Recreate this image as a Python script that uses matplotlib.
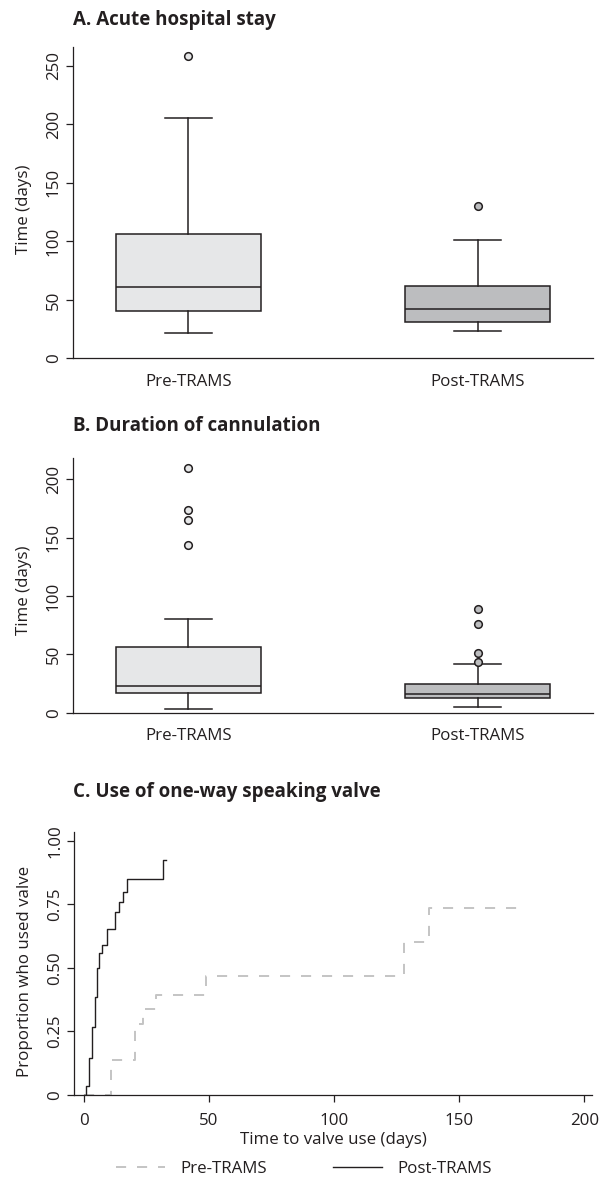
import matplotlib
matplotlib.use('Agg')
import matplotlib.pyplot as plt

plt.rcParams['font.family'] = ['Open Sans', 'DejaVu Sans']

# box plot summaries (days)
groups = ['Pre-TRAMS', 'Post-TRAMS']

stay_med = [61, 42]
stay_q1 = [40.5, 31]
stay_q3 = [106, 62]
stay_lo = [22, 23.3]
stay_hi = [205, 101]
stay_out = [[258.6], [130.2]]

cann_med = [22.6, 15.7]
cann_q1 = [16.6, 12.9]
cann_q3 = [56.6, 24.3]
cann_lo = [3.1, 4.9]
cann_hi = [80.6, 41.5]
cann_out = [[210, 173.5, 165.4, 143.7], [89.1, 76, 51.2, 43.5]]

# cumulative proportion using the valve (step curves)
pre_t = [0, 10.6, 20.2, 23.4, 28.7, 48.7, 127.9, 137.9, 173.4]
pre_p = [0, 0.137, 0.28, 0.336, 0.393, 0.469, 0.603, 0.737, 0.737]
post_t = [0, 0.8, 1.8, 3.0, 4.2, 5.3, 6.1, 7.2, 9.3, 12.5, 14.1, 15.7, 17.3, 31.7, 32.7]
post_p = [0, 0.034, 0.146, 0.265, 0.384, 0.498, 0.56, 0.59, 0.653, 0.72, 0.76, 0.80,
          0.85, 0.925, 0.925]

dark = '#231f20'
fills = ['#e6e7e8', '#bcbdbf']
fs = 12.2
tfs = 13.5


def style_axes(ax):
    ax.tick_params(axis='y', length=4.8, width=0.9, pad=3, labelsize=fs,
                   labelrotation=90, colors=dark)
    for lab in ax.get_yticklabels():
        lab.set_va('center')
    ax.spines['top'].set_visible(False)
    ax.spines['right'].set_visible(False)
    for sp in ['left', 'bottom']:
        ax.spines[sp].set_linewidth(0.9)
        ax.spines[sp].set_color(dark)


def box_panel(ax, med, q1, q3, lo, hi, out, ymax, yticks):
    for i in range(len(groups)):
        s = dict(med=med[i], q1=q1[i], q3=q3[i], whislo=lo[i],
                 whishi=hi[i], fliers=out[i], label=groups[i])
        ax.bxp([s], positions=[i + 1], widths=0.5, capwidths=0.165,
               patch_artist=True,
               boxprops=dict(facecolor=fills[i], edgecolor=dark, linewidth=1.1),
               medianprops=dict(color=dark, linewidth=1.1),
               whiskerprops=dict(color=dark, linewidth=1.1),
               capprops=dict(color=dark, linewidth=1.1),
               flierprops=dict(marker='o', markersize=5.5, markerfacecolor=fills[i],
                               markeredgecolor=dark, markeredgewidth=1.1))
    ax.set_xlim(0.6, 2.4)
    ax.set_ylim(0, ymax)
    ax.set_yticks(yticks)
    ax.set_xticks([1, 2])
    ax.set_xticklabels(groups)
    ax.tick_params(axis='x', length=0, pad=11, labelsize=fs, colors=dark)
    style_axes(ax)
    ax.set_ylabel('Time (days)', fontsize=fs, color=dark)
    ax.yaxis.set_label_coords(-0.078, 0.48)


fig = plt.figure(figsize=(6.03, 11.78), dpi=100)

ax1 = fig.add_axes([0.1206, 0.6958, 0.8633, 0.2643])
box_panel(ax1, stay_med, stay_q1, stay_q3, stay_lo, stay_hi, stay_out, 266,
          [0, 50, 100, 150, 200, 250])
fig.text(73 / 603, 1 - 20 / 1178, 'A. Acute hospital stay', fontsize=tfs,
         fontweight='bold', color=dark, ha='left', va='center')

ax2 = fig.add_axes([0.1206, 0.395, 0.8633, 0.216])
box_panel(ax2, cann_med, cann_q1, cann_q3, cann_lo, cann_hi, cann_out, 218,
          [0, 50, 100, 150, 200])
fig.text(73 / 603, 1 - 426 / 1178, 'B. Duration of cannulation', fontsize=tfs,
         fontweight='bold', color=dark, ha='left', va='center')

ax3 = fig.add_axes([0.1227, 0.0707, 0.859, 0.2233])
ax3.step(pre_t, pre_p, where='post', color='#c4c4c4', linewidth=1.4,
         linestyle=(0, (5.2, 5.6)), label='Pre-TRAMS')
ax3.step(post_t, post_p, where='post', color=dark, linewidth=1.0,
         label='Post-TRAMS')
ax3.set_xlim(-4, 203)
ax3.set_ylim(0, 1.037)
ax3.set_xticks([0, 50, 100, 150, 200])
ax3.set_yticks([0, 0.25, 0.5, 0.75, 1.0])
ax3.set_yticklabels(['0', '0.25', '0.50', '0.75', '1.00'])
ax3.tick_params(axis='x', length=5, width=0.9, pad=8, labelsize=fs, colors=dark)
style_axes(ax3)
ax3.set_ylabel('Proportion who used valve', fontsize=fs, color=dark)
ax3.yaxis.set_label_coords(-0.079, 0.47)
ax3.set_xlabel('Time to valve use (days)', fontsize=fs, color=dark, labelpad=2)
fig.text(73 / 603, 1 - 792 / 1178, 'C. Use of one-way speaking valve', fontsize=tfs,
         fontweight='bold', color=dark, ha='left', va='center')

handles, labels = ax3.get_legend_handles_labels()
fig.legend(handles, labels, loc='center', bbox_to_anchor=(304 / 603, 1 - 1169 / 1178),
           ncol=2, frameon=False, fontsize=fs, handlelength=2.9, handletextpad=0.9,
           columnspacing=3.9, labelcolor=dark)

fig.savefig('out.png', dpi=100)
